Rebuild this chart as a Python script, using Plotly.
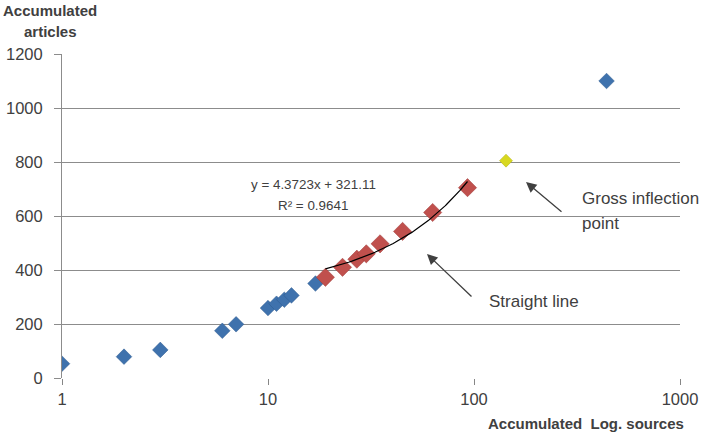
import numpy as np
import plotly.graph_objects as go

# data
blue_x = [1, 2, 3, 6, 7, 10, 11, 12, 13, 17, 440]
blue_y = [53, 79, 104, 175, 199, 259, 275, 290, 306, 350, 1100]
red_x = [19, 23, 27, 30, 35, 45, 63, 93]
red_y = [373, 410, 440, 460, 497, 543, 613, 705]
yellow_x = [143]
yellow_y = [805]
slope, intercept = 4.3723, 321.11
trend_range = [19, 93]
x_ticks = [1, 10, 100, 1000]
y_ticks = [0, 200, 400, 600, 800, 1000, 1200]

FONT = "Liberation Sans"
TXT = "#404040"

tx = np.linspace(trend_range[0], trend_range[1], 80)
ty = slope * tx + intercept

fig = go.Figure()
fig.add_trace(go.Scatter(x=blue_x, y=blue_y, mode="markers",
                         marker=dict(symbol="diamond", size=12, color="#3F72AD",
                                     line=dict(width=0.5, color="#2E5B8E"))))
fig.add_trace(go.Scatter(x=red_x, y=red_y, mode="markers",
                         marker=dict(symbol="diamond", size=14, color="#C0504D",
                                     line=dict(width=0.5, color="#9E3B38"))))
fig.add_trace(go.Scatter(x=yellow_x, y=yellow_y, mode="markers",
                         marker=dict(symbol="diamond", size=10, color="#D8D820",
                                     line=dict(width=0.5, color="#B0B010"))))
fig.add_trace(go.Scatter(x=tx, y=ty, mode="lines",
                         line=dict(color="black", width=1.2)))

fig.update_layout(
    width=709, height=434,
    margin=dict(l=62, r=29, t=54, b=56, autoexpand=False),
    paper_bgcolor="white", plot_bgcolor="white",
    showlegend=False,
    font=dict(family=FONT, size=15, color=TXT),
    xaxis=dict(type="log", range=[0, 3], tickvals=x_ticks,
               ticktext=[str(v) for v in x_ticks],
               showgrid=False, zeroline=False,
               showline=False, ticks="outside", ticklen=6, tickcolor="#868686",
               tickfont=dict(family=FONT, size=16.5, color=TXT)),
    yaxis=dict(range=[0, 1200], tickvals=y_ticks, showgrid=True,
               gridcolor="#8C8C8C", gridwidth=1, zeroline=False,
               showline=True, linecolor="#8C8C8C", linewidth=1,
               ticks="outside", ticklen=7, tickcolor="#8C8C8C",
               ticklabelstandoff=8,
               tickfont=dict(family=FONT, size=16.5, color=TXT)),
)

def px2paper(x, y):
    return (x - 62) / (680 - 62), (378 - y) / (378 - 54)

def add_text(text, x, y, size=13, bold=False, xanchor="center"):
    px, py = px2paper(x, y)
    if bold:
        text = "<b>" + text + "</b>"
    fig.add_annotation(x=px, y=py, xref="paper", yref="paper", text=text,
                       showarrow=False, xanchor=xanchor, yanchor="middle",
                       font=dict(family=FONT, size=size, color=TXT))

add_text("y = 4.3723x + 321.11", 313, 184, size=13.4)
add_text("R² = 0.9641", 313, 205, size=13.4)
add_text("Gross inflection", 580, 198, size=17, xanchor="left")
add_text("point", 580, 223, size=17, xanchor="left")
add_text("Straight line", 487, 301, size=17, xanchor="left")
add_text("Accumulated", 50, 10, size=15, bold=True)
add_text("articles", 50, 32, size=15, bold=True)
add_text("Accumulated  Log. sources", 686, 423, size=15, bold=True, xanchor="right")

def add_arrow(x0, y0, x1, y1):
    hx, hy = px2paper(x1, y1)
    fig.add_annotation(x=hx, y=hy, ax=x0 - x1, ay=y0 - y1, xref="paper", yref="paper",
                       axref="pixel", ayref="pixel", text="", showarrow=True,
                       arrowhead=2, arrowsize=1.6, arrowwidth=1.3, arrowcolor="#404040")

add_arrow(563, 213, 526, 182)
add_arrow(473, 298, 427, 254)

fig.write_html("out.html", config={"displayModeBar": False},
               post_script="document.body.style.margin='0';")
